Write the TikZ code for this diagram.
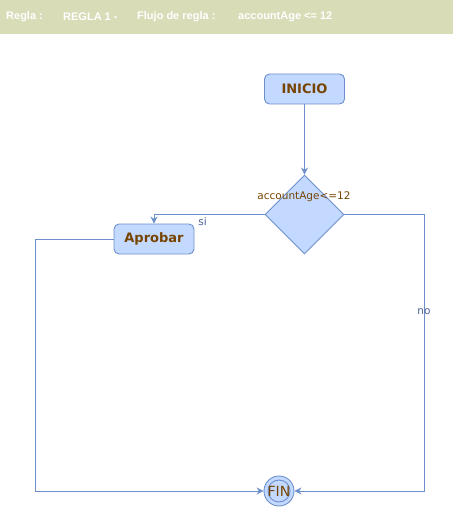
\documentclass[tikz,border=0pt]{standalone}
\usepackage{fontspec}
\setmainfont{DejaVu Sans}
\newfontfamily\hdrfont{Liberation Sans}
\usetikzlibrary{shapes.geometric,arrows.meta}
\definecolor{hdrbg}{HTML}{D8DDB8}
\definecolor{nodefill}{HTML}{C3D9FF}
\definecolor{nodeedge}{HTML}{6D8FCC}
\definecolor{txtbrown}{HTML}{774400}
\definecolor{lblblue}{HTML}{4A5F9A}
\begin{document}
\begin{tikzpicture}[x=1pt,y=-1pt,
  proc/.style={draw=nodeedge,line width=0.9pt,fill=nodefill,rounded corners=5pt,minimum width=80pt,minimum height=30pt,inner sep=0pt,text=txtbrown,font=\fontsize{13}{15}\selectfont\bfseries},
  decision/.style={draw=nodeedge,line width=0.9pt,fill=nodefill,diamond,minimum width=79pt,minimum height=79pt,inner sep=0pt},
  endnode/.style={draw=nodeedge,line width=0.9pt,fill=nodefill,circle,minimum size=30pt,inner sep=0pt,text=txtbrown,font=\fontsize{14}{16}\selectfont,
    path picture={\draw[nodeedge,line width=0.9pt] (path picture bounding box.center) circle (11pt);}},
  conn/.style={draw=nodeedge,line width=0.9pt,-{Stealth[length=7pt,width=7pt]}},
  lbl/.style={text=lblblue,font=\fontsize{10.5}{12}\selectfont,inner sep=0pt},
  hdr/.style={text=white,font=\hdrfont\fontsize{11}{13}\selectfont\bfseries,anchor=west,inner sep=0pt}]
\useasboundingbox (0,0) rectangle (453,516);
\fill[hdrbg] (0,0) rectangle (453,34);
\node[hdr] (h1) at (6,17) {Regla :};
\node[hdr] (h2) at (63,17) {REGLA 1 -};
\node[hdr] (h3) at (137,17) {Flujo de regla :};
\node[hdr] (h4) at (238,17) {accountAge <= 12};

\node[proc] (inicio) at (304.5,89) {INICIO};
\node[decision] (dec) at (304.5,214.5) {};
\node[text=txtbrown,font=\fontsize{10.5}{12}\selectfont,inner sep=0pt] (declbl) at (304,197) {accountAge<=12};
\node[proc] (apr) at (154,239) {Aprobar};
\node[endnode] (fin) at (279,491) {FIN};
\coordinate (lc) at (35,491);
\coordinate (rc) at (424,491);

\draw[conn] (inicio) -- (dec);
\draw[conn] (dec.west) -| node[lbl,pos=0.28,below=3pt] (si) {si} (apr.north);
\draw[conn] (apr.west) -| (lc) -- (fin.west);
\draw[conn] (dec.east) -| node[lbl,pos=0.675] (no) {no} (rc) -- (fin.east);
\end{tikzpicture}
\end{document}
